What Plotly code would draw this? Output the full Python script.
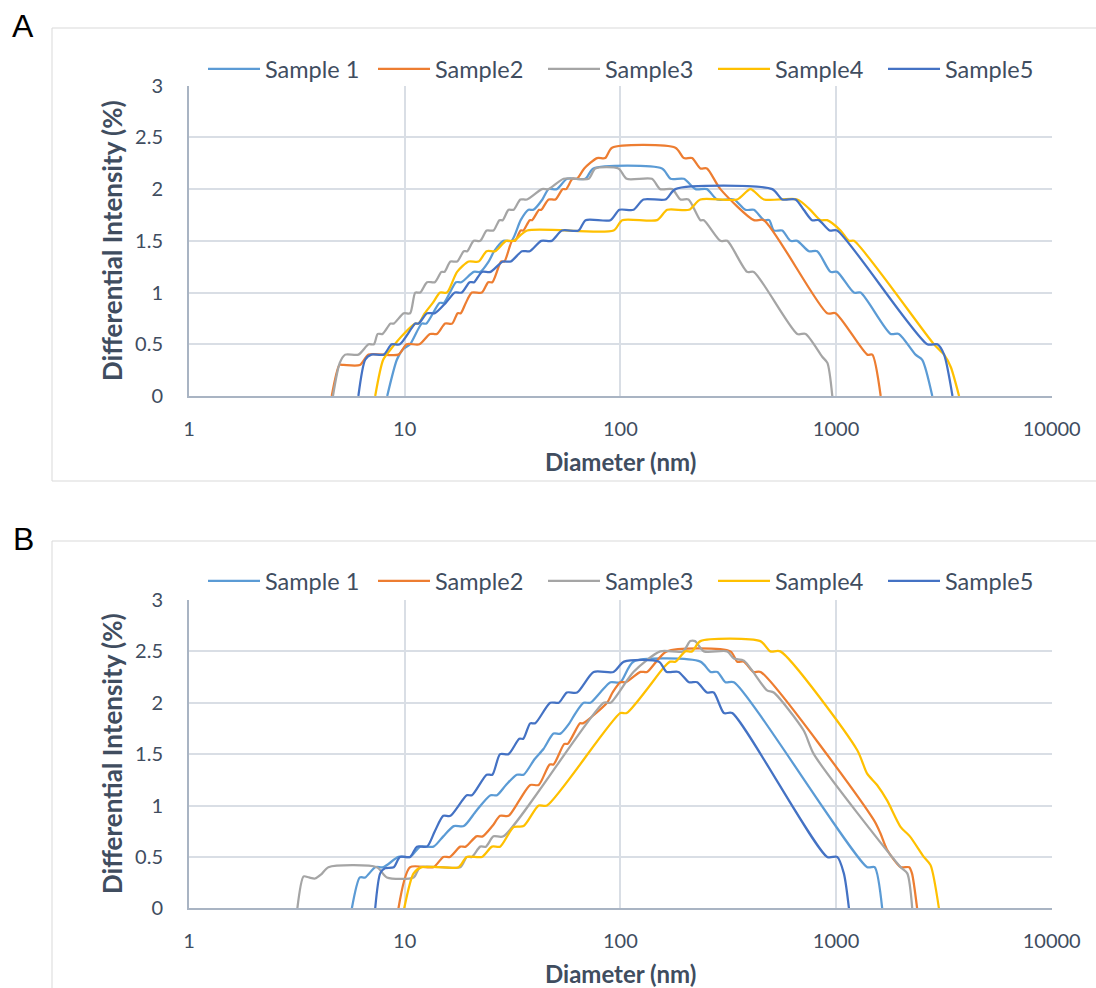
import plotly.graph_objects as go

NAMES = ["Sample 1", "Sample2", "Sample3", "Sample4", "Sample5"]
COLORS = ["#5B9BD5", "#ED7D31", "#A5A5A5", "#FFC000", "#4472C4"]

X_TICKS = [1, 10, 100, 1000, 10000]
X_TICKTEXT = ["1", "10", "100", "1000", "10000"]
Y_TICKS = [0, 0.5, 1, 1.5, 2, 2.5, 3]
Y_TICKTEXT = ["0", "0.5", "1", "1.5", "2", "2.5", "3"]

# ---------------- Panel A ----------------
A_S1_D = [8.3, 9.2, 9.8, 10.6, 12.0, 12.6, 14.5, 15.2, 17.3, 18.3, 20.9, 22.4, 24.5, 26.0, 28.7, 31.3,
          34.5, 37.5, 39.5, 43.5, 46.5, 50.7, 56.6, 68.8, 75, 156, 171, 197, 223, 252, 281, 336, 380,
          416, 463, 490, 515, 563, 615, 661, 748, 818, 943, 1012, 1210, 1300, 1790, 1955, 2337, 2510, 2795]
A_S1_V = [0, 0.35, 0.45, 0.5, 0.7, 0.7, 0.9, 0.9, 1.1, 1.1, 1.2, 1.2, 1.3, 1.4, 1.5, 1.5,
          1.7, 1.8, 1.8, 1.9, 2.0, 2.0, 2.1, 2.1, 2.2, 2.2, 2.1, 2.1, 2.0, 2.0, 1.9, 1.9, 1.8,
          1.8, 1.7, 1.7, 1.6, 1.6, 1.5, 1.5, 1.4, 1.4, 1.2, 1.2, 1.0, 1.0, 0.6, 0.6, 0.4, 0.35, 0]

A_S2_D = [4.59, 4.99, 5.2, 6.2, 6.8, 9.36, 10.2, 11.7, 13.1, 14.1, 15.4, 16.6, 17.6, 18.2, 19.2, 20.5,
          22.8, 24.4, 25.5, 28.0, 29.0, 31.5, 32.5, 34.5, 35.5, 38.0, 39.0, 42.0, 43.0, 46.5, 50.0,
          54.0, 56.0, 60.0, 63.0, 68.0, 78.0, 85.0, 91.5, 180, 197, 215, 235, 252, 291, 416, 463,
          910, 995, 1396, 1473, 1611]
A_S2_V = [0, 0.3, 0.3, 0.3, 0.4, 0.4, 0.5, 0.5, 0.6, 0.6, 0.7, 0.7, 0.8, 0.8, 0.9, 1.0,
          1.0, 1.1, 1.1, 1.3, 1.3, 1.5, 1.5, 1.6, 1.6, 1.7, 1.7, 1.8, 1.8, 1.9, 1.9,
          2.0, 2.0, 2.1, 2.1, 2.2, 2.3, 2.3, 2.4, 2.4, 2.3, 2.3, 2.2, 2.2, 2.0, 1.7, 1.7,
          0.8, 0.8, 0.4, 0.4, 0]

A_S3_D = [4.65, 5.0, 5.3, 6.1, 6.8, 7.2, 7.5, 7.9, 8.6, 8.9, 9.9, 10.6, 11.2, 11.8, 12.7, 13.8,
          14.8, 15.3, 16.3, 17.5, 18.8, 19.5, 20.9, 22.4, 24.0, 25.8, 27.5, 28.5, 30.3, 32.0, 34.4,
          36.9, 43.3, 46.5, 54.6, 71.3, 76.5, 98, 107, 140, 153, 174, 190, 207, 235, 244, 291, 313,
          387, 416, 661, 723, 863, 912, 961]
A_S3_V = [0, 0.32, 0.4, 0.4, 0.5, 0.5, 0.6, 0.6, 0.7, 0.7, 0.8, 0.8, 1.0, 1.0, 1.1, 1.1,
          1.2, 1.2, 1.3, 1.3, 1.4, 1.4, 1.5, 1.5, 1.6, 1.6, 1.7, 1.7, 1.8, 1.8, 1.9,
          1.9, 2.0, 2.0, 2.1, 2.1, 2.2, 2.2, 2.1, 2.1, 2.0, 2.0, 1.9, 1.9, 1.7, 1.7, 1.5, 1.5,
          1.2, 1.2, 0.6, 0.6, 0.38, 0.32, 0]

A_S4_D = [7.3, 7.95, 8.6, 9.9, 11.2, 11.6, 12.4, 13.5, 14.6, 15.7, 17.5, 19.8, 22.0, 24.0, 26.3, 29.5,
          32.0, 37.0, 93, 102, 148, 165, 208, 235, 348, 401, 463, 661, 760, 848, 910, 1049, 1148,
          1211, 2844, 3170, 3404, 3719]
A_S4_V = [0, 0.35, 0.45, 0.6, 0.7, 0.7, 0.8, 0.9, 1.0, 1.0, 1.2, 1.3, 1.3, 1.4, 1.4, 1.5,
          1.5, 1.6, 1.6, 1.7, 1.7, 1.8, 1.8, 1.9, 1.9, 2.0, 1.9, 1.9, 1.8, 1.7, 1.7, 1.6, 1.5,
          1.5, 0.5, 0.4, 0.28, 0]

A_S5_D = [6.1, 6.56, 7.0, 8.0, 8.7, 9.5, 11.2, 11.6, 12.7, 13.8, 15.5, 17.1, 18.4, 20.0, 21.0, 22.8,
          25.0, 28.5, 31.0, 35.0, 38.0, 43.0, 48.0, 53.6, 64.0, 69.0, 90.0, 99, 115, 128, 162, 180,
          506, 563, 649, 708, 774, 832, 934, 1012, 2650, 2952, 3170, 3467]
A_S5_V = [0, 0.35, 0.4, 0.4, 0.5, 0.5, 0.7, 0.7, 0.8, 0.8, 0.9, 1.0, 1.0, 1.1, 1.1, 1.2,
          1.2, 1.3, 1.3, 1.4, 1.4, 1.5, 1.5, 1.6, 1.6, 1.7, 1.7, 1.8, 1.8, 1.9, 1.9, 2.0,
          2.0, 1.9, 1.9, 1.8, 1.7, 1.7, 1.6, 1.6, 0.5, 0.5, 0.4, 0]

# ---------------- Panel B ----------------
B_S1_D = [5.69, 6.2, 6.56, 7.3, 7.98, 9.36, 10.6, 11.8, 13.6, 15.1, 16.9, 18.8, 21.5, 25.0, 26.8, 29.5,
          33.1, 35.6, 40.0, 44.0, 49.0, 52.7, 58.0, 62.0, 67.6, 72.6, 80.7, 90, 100, 115, 235, 262,
          282, 307, 336, 1396, 1510, 1637]
B_S1_V = [0, 0.3, 0.3, 0.4, 0.4, 0.5, 0.5, 0.6, 0.6, 0.7, 0.8, 0.8, 0.95, 1.1, 1.1, 1.2,
          1.3, 1.3, 1.45, 1.55, 1.7, 1.7, 1.8, 1.9, 2.0, 2.0, 2.1, 2.2, 2.2, 2.4, 2.4, 2.3,
          2.3, 2.2, 2.2, 0.4, 0.4, 0]

B_S2_D = [9.36, 10.6, 13.6, 15.1, 16.2, 18.1, 19.2, 21.5, 23.0, 25.5, 27.7, 30.3, 34.0, 38.2, 41.8, 47.0,
          49.0, 55.0, 57.0, 65.0, 67.0, 86.7, 92, 100, 106, 124, 133, 164, 324, 348, 374, 414,
          447, 1496, 1606, 1725, 1995, 2183, 2250, 2377]
B_S2_V = [0, 0.4, 0.4, 0.5, 0.5, 0.6, 0.6, 0.7, 0.7, 0.8, 0.9, 0.9, 1.05, 1.2, 1.2, 1.4,
          1.4, 1.6, 1.6, 1.8, 1.8, 2.0, 2.1, 2.2, 2.2, 2.3, 2.3, 2.5, 2.5, 2.4, 2.4, 2.3,
          2.3, 0.86, 0.73, 0.57, 0.4, 0.4, 0.34, 0]

B_S3_D = [3.18, 3.4, 3.6, 3.84, 4.1, 4.43, 7.43, 8.27, 11.0, 11.8, 18.1, 19.4, 20.5, 22.4, 23.8, 25.8,
          28.7, 83.7, 90, 115, 153, 195, 211, 222, 244, 313, 336, 374, 479, 514, 708, 789,
          1995, 2140, 2256]
B_S3_V = [0, 0.31, 0.3, 0.29, 0.33, 0.4, 0.4, 0.3, 0.3, 0.4, 0.4, 0.5, 0.5, 0.6, 0.6, 0.7,
          0.7, 2.0, 2.0, 2.3, 2.5, 2.5, 2.6, 2.6, 2.5, 2.5, 2.43, 2.41, 2.12, 2.1, 1.73, 1.5,
          0.4, 0.34, 0]

B_S4_D = [9.95, 11.0, 12.0, 14.3, 17.8, 19.4, 22.8, 25.4, 27.7, 32.0, 35.6, 41.8, 45.7, 100, 107, 160,
          170, 180, 200, 215, 235, 446, 496, 552, 1253, 1394, 1550, 1725, 1995, 2200, 2553, 2743,
          3000]
B_S4_V = [0, 0.34, 0.4, 0.4, 0.4, 0.5, 0.5, 0.6, 0.6, 0.79, 0.8, 1.0, 1.0, 1.9, 1.9, 2.35,
          2.4, 2.4, 2.5, 2.5, 2.6, 2.6, 2.5, 2.5, 1.54, 1.31, 1.2, 1.05, 0.79, 0.7, 0.5, 0.42,
          0]

B_S5_D = [7.3, 7.7, 8.1, 8.9, 9.5, 10.6, 11.4, 12.7, 13.8, 15.1, 16.3, 19.4, 20.5, 24.0, 25.5, 27.7,
          30.3, 34.0, 35.5, 38.2, 40.3, 47.3, 51.8, 56.5, 63.0, 75.2, 93, 104, 151, 164, 186, 208,
          227, 252, 271, 302, 330, 910, 1012, 1087, 1148]
B_S5_V = [0, 0.34, 0.39, 0.4, 0.5, 0.5, 0.6, 0.6, 0.75, 0.9, 0.9, 1.1, 1.1, 1.3, 1.3, 1.5,
          1.5, 1.65, 1.65, 1.8, 1.8, 2.0, 2.0, 2.1, 2.1, 2.3, 2.3, 2.4, 2.4, 2.3, 2.3, 2.2,
          2.2, 2.1, 2.1, 1.9, 1.9, 0.5, 0.5, 0.34, 0]

PANEL_A = [(A_S1_D, A_S1_V), (A_S2_D, A_S2_V), (A_S3_D, A_S3_V), (A_S4_D, A_S4_V), (A_S5_D, A_S5_V)]
PANEL_B = [(B_S1_D, B_S1_V), (B_S2_D, B_S2_V), (B_S3_D, B_S3_V), (B_S4_D, B_S4_V), (B_S5_D, B_S5_V)]

TXT = "#404D5F"
GRID = "#D9DEE5"
AXIS = "#A9B4C3"
FONT = "Lato"

fig = go.Figure()
for panel, (xa, ya, lg) in zip([PANEL_A, PANEL_B], [("x", "y", "legend"), ("x2", "y2", "legend2")]):
    for (d, v), name, col in zip(panel, NAMES, COLORS):
        fig.add_trace(go.Scatter(
            x=d, y=v, mode="lines", name=name,
            line=dict(color=col, width=2.25, shape="spline", smoothing=0.7),
            xaxis=xa, yaxis=ya, legend=lg, hoverinfo="x+y+name"))

W, H = 1096, 988
X_DOM = [189 / W, 1051.7 / W]
YA_DOM = [1 - 396 / H, 1 - 85.7 / H]
YB_DOM = [1 - 908.3 / H, 1 - 600 / H]

def xaxis(anchor):
    return dict(type="log", range=[0, 4], domain=X_DOM, anchor=anchor, automargin=False,
                tickmode="array", tickvals=X_TICKS, ticktext=X_TICKTEXT,
                showgrid=True, gridcolor=GRID, gridwidth=1.5,
                showline=True, linecolor=AXIS, linewidth=2, zeroline=False,
                ticks="outside", ticklen=14, tickcolor="rgba(0,0,0,0)",
                tickfont=dict(family=FONT, size=20, color=TXT), fixedrange=True)

def yaxis(anchor, dom):
    return dict(range=[0, 3], domain=dom, anchor=anchor, automargin=False,
                tickmode="array", tickvals=Y_TICKS, ticktext=Y_TICKTEXT,
                showgrid=True, gridcolor=GRID, gridwidth=1.5,
                showline=True, linecolor=AXIS, linewidth=2, zeroline=False,
                ticks="outside", ticklen=20, tickcolor="rgba(0,0,0,0)",
                tickfont=dict(family=FONT, size=20, color=TXT), fixedrange=True)

def legend(ycen):
    return dict(orientation="h", x=203 / W, xanchor="left", y=ycen, yanchor="middle",
                font=dict(family=FONT, size=23.5, color=TXT), bgcolor="rgba(0,0,0,0)",
                itemwidth=52, entrywidth=103, entrywidthmode="pixels")

annotations = []
for lbl, ytop, xt_y, yt_c in [("A", 26, 461, 241), ("B", 539, 973, 754)]:
    annotations.append(dict(text=lbl, x=23 / W, y=1 - ytop / H, xref="paper", yref="paper",
                            showarrow=False, xanchor="center", yanchor="middle",
                            font=dict(family="Liberation Sans", size=32, color="#000000")))
    annotations.append(dict(text="<b>Diameter (nm)</b>", x=620.4 / W, y=1 - xt_y / H, xref="paper",
                            yref="paper", showarrow=False, xanchor="center", yanchor="middle",
                            font=dict(family=FONT, size=24, color=TXT)))
    annotations.append(dict(text="<b>Differential Intensity (%)</b>", x=112 / W, y=1 - yt_c / H,
                            xref="paper", yref="paper", showarrow=False, textangle=-90,
                            xanchor="center", yanchor="middle",
                            font=dict(family=FONT, size=26, color=TXT)))

shapes = [
    dict(type="rect", xref="paper", yref="paper", x0=52 / W, x1=1.01, y0=1 - 481 / H, y1=1 - 28 / H,
         line=dict(color="#D9D9D9", width=1), fillcolor="rgba(0,0,0,0)", layer="below"),
    dict(type="rect", xref="paper", yref="paper", x0=52 / W, x1=1.01, y0=-0.01, y1=1 - 541 / H,
         line=dict(color="#D9D9D9", width=1), fillcolor="rgba(0,0,0,0)", layer="below"),
]

fig.update_layout(
    width=W, height=H, autosize=False,
    margin=dict(l=0, r=0, t=0, b=0, autoexpand=False),
    paper_bgcolor="#FFFFFF", plot_bgcolor="#FFFFFF",
    xaxis=xaxis("y"), yaxis=yaxis("x", YA_DOM),
    xaxis2=xaxis("y2"), yaxis2=yaxis("x2", YB_DOM),
    legend=legend(1 - 69 / H), legend2=legend(1 - 581 / H),
    annotations=annotations, shapes=shapes,
    showlegend=True,
)

fig.write_html("out.html", config={"displayModeBar": False},
               post_script="document.body.style.margin='0px';document.body.style.overflow='hidden';")
